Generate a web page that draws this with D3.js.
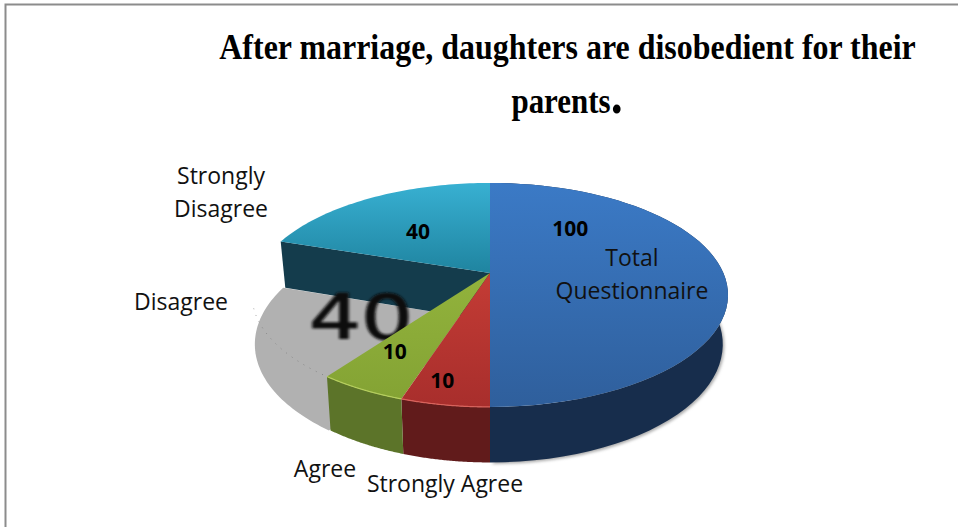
<!DOCTYPE html>
<html><head><meta charset="utf-8">
<script src="https://cdn.jsdelivr.net/npm/d3@7/dist/d3.min.js"></script>
<style>html,body{margin:0;padding:0;background:#fff;overflow:hidden}svg{display:block}
.cat{font-family:"Open Sans",sans-serif;font-size:23px;fill:#111}
.val{font-family:"Open Sans",sans-serif;font-size:21px;font-weight:700;fill:#000;text-anchor:middle}
.title{font-family:"Liberation Serif",serif;font-weight:700;font-size:35px;fill:#000;text-anchor:middle}
</style></head><body>
<script>
// Data
const categories = ["Total Questionnaire","Strongly Agree","Agree","Disagree","Strongly Disagree"];
const values = [100,10,10,40,40];
const titleLines = ["After marriage, daughters are disobedient for their","parents"];

// Layout / style
const W=958,H=527;
const topColors=[["#3b7ac6","#2f5f9c"],["#c43c35","#a82e2c"],["#92b33c","#84a334"],["#b1b1b1","#adadad"],["#38b0d2","#1f84a0"]];
const sideColors=["#172d4c","#611b1b","#5c7429","#b1b1b1","#143c4c"];
const apex={x:490,y:273};
const tilt=0.196;
const xs=d3.scaleLinear().domain([-1,1]).range([apex.x-233.4,apex.x+233.4]);
const ys=d3.scaleLinear().domain([-1,1]).range([apex.y-107.7,apex.y+107.7]);
// angle 0 = 12 o'clock, clockwise
function proj(a,r=1,bottom=false,shrink=0.978){
  const tx=Math.sin(a)*r, ty=-Math.cos(a)*r, den=1-tilt*ty;
  let X=xs(tx/den), Y=ys(ty/den);
  if(bottom){ X=apex.x+(X-apex.x)*shrink; Y+=48/(1-0.135*ty); }
  return [X,Y];
}
const pie=d3.pie().sort(null).value(d=>d)(values);
const line=d3.line();
const arcPts=(a0,a1,bottom=false,shrink)=>d3.range(0,61).map(i=>proj(a0+(a1-a0)*i/60,1,bottom,shrink));

const svg=d3.select("body").append("svg").attr("width",W).attr("height",H);
const defs=svg.append("defs");
const shadow=defs.append("filter").attr("id","soft").attr("x","-10%").attr("y","-10%").attr("width","120%").attr("height","120%");
shadow.append("feGaussianBlur").attr("stdDeviation",1.4);
const blur=defs.append("filter").attr("id","blur");
blur.append("feGaussianBlur").attr("stdDeviation",1.3);
const edge=defs.append("filter").attr("id","edge");
edge.append("feGaussianBlur").attr("stdDeviation",0.7);
topColors.forEach((c,i)=>{
  const g=defs.append("linearGradient").attr("id","g"+i).attr("x1",0).attr("y1",0).attr("x2",0).attr("y2",1);
  g.append("stop").attr("offset",0).attr("stop-color",c[0]);
  g.append("stop").attr("offset",1).attr("stop-color",c[1]);
});

// frame
svg.append("path").attr("d",line([[5.5,H],[5.5,4.5],[W,4.5]])).attr("fill","none").attr("stroke","#8c8c8c").attr("stroke-width",2);

// soft shadow under the right rim
svg.append("path")
  .attr("d",line(arcPts(Math.PI*0.42,Math.PI,true).map(p=>[p[0]+1.5,p[1]+1.5]))+"Z")
  .attr("fill","#aaa").attr("filter","url(#soft)");

const sector=(d)=>line([[apex.x,apex.y],...arcPts(d.startAngle,d.endAngle)])+"Z";
const rim=(d)=>{const t=arcPts(d.startAngle,d.endAngle),b=arcPts(d.startAngle,d.endAngle,true).reverse();return line([...t,...b])+"Z";};

// disagree slice: flat gray on the lower plane, with a soft edge
const gray=pie[3];
svg.append("path").attr("d",line([[apex.x,apex.y+48],...arcPts(gray.startAngle,gray.endAngle,true,0.988)])+"Z")
  .attr("fill",sideColors[3]).attr("filter","url(#edge)");
svg.append("path").attr("d",line(arcPts(gray.startAngle+0.02,gray.startAngle+0.66)))
  .attr("fill","none").attr("stroke","#666").attr("stroke-width",0.7).attr("stroke-dasharray","1 6").attr("opacity",.8);

// strongly disagree inner wall
const sd=pie[4];
const sdP=proj(sd.startAngle),sdB=proj(sd.startAngle,1,true);
svg.append("path").attr("d",line([sdP,[apex.x,apex.y],[apex.x,apex.y+48],sdB])+"Z").attr("fill",sideColors[4]);

// outer walls
[0,1,2].forEach(i=>svg.append("path").attr("d",rim(pie[i])).attr("fill",sideColors[i]));

// blurred oversized label
svg.append("text").attr("x",361).attr("y",339).attr("text-anchor","middle")
  .attr("font-family","'DejaVu Sans',sans-serif").attr("font-size",62).attr("fill","#111")
  .attr("stroke","#111").attr("stroke-width",1.2)
  .attr("filter","url(#blur)").attr("transform","translate(361 339) scale(1.32 1.0) translate(-361 -339)").text(values[3]);

// top faces
[4,2,1,0].forEach(i=>svg.append("path").attr("d",sector(pie[i])).attr("fill",`url(#g${i})`));
// rim highlights
[1,2].forEach(i=>svg.append("path").attr("d",line(arcPts(pie[i].startAngle,pie[i].endAngle)))
  .attr("fill","none").attr("stroke",i==1?"#d9635c":"#b6cf5e").attr("stroke-width",1.2));

// value labels, placed by fraction along the slice and fraction of the radius
const valuePlace=[[0.22,0.587],[0.64,0.855],[0.633,0.728],[0.5,0],[0.467,0.538]];
[0,1,2,4].forEach(i=>{
  const d=pie[i], a=d.startAngle+(d.endAngle-d.startAngle)*valuePlace[i][0];
  const p=proj(a,valuePlace[i][1]);
  svg.append("text").attr("class","val").attr("x",p[0]).attr("y",p[1]+7.5).text(values[i]);
});

// category labels
const catLines=[["Total","Questionnaire"],["Strongly Agree"],["Agree"],["Disagree"],["Strongly","Disagree"]];
const catPos=[[632,266,"middle"],[445,492,"middle"],[325,477,"middle"],[181,310,"middle"],[221,184,"middle"]];
catLines.forEach((ls,i)=>ls.forEach((s,j)=>{
  svg.append("text").attr("class","cat").attr("x",catPos[i][0]).attr("y",catPos[i][1]+j*32.5)
    .attr("text-anchor",catPos[i][2]).text(s);
}));

// title
svg.append("text").attr("class","title").attr("transform","translate(567.5 59) scale(.913 1)").text(titleLines[0]);
const t2=svg.append("text").attr("class","title").attr("transform","translate(567 113) scale(.885 1)");
t2.append("tspan").text(titleLines[1]);
t2.append("tspan").style("font-size","54px").text(".");
</script></body></html>
